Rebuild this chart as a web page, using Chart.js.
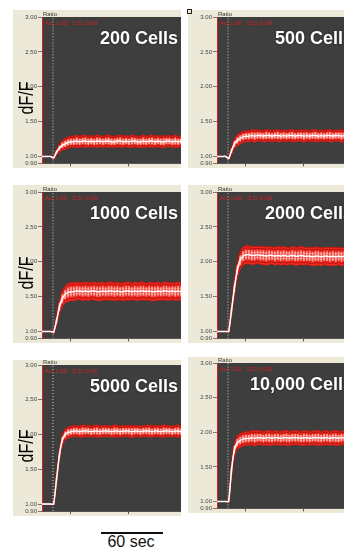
<!DOCTYPE html>
<html>
<head>
<meta charset="utf-8">
<script src="https://cdn.jsdelivr.net/npm/chart.js@4"></script>
<style>
  html, body { margin: 0; padding: 0; background: #fff; }
  body { width: 344px; height: 550px; overflow: hidden; position: relative; font-family: "Liberation Sans", Arial, sans-serif; }
  canvas { position: absolute; }
  #bar60 { position: absolute; left: 101px; top: 532px; width: 62px; height: 2px; background: #111; }
  #lbl60 { position: absolute; left: 91px; width: 80px; top: 533px; line-height: 18px; font-size: 16px; text-align: center; color: #111; }
  #marker { position: absolute; left: 187px; top: 9px; width: 3px; height: 3px; border: 1px solid #222; }
</style>
</head>
<body>
<canvas id="c1"></canvas>
<canvas id="c2"></canvas>
<canvas id="c3"></canvas>
<canvas id="c4"></canvas>
<canvas id="c5"></canvas>
<canvas id="c6"></canvas>
<div id="marker"></div>
<div id="bar60"></div>
<div id="lbl60">60 sec</div>
<script>
// time points (sec)
const times = [0,3,6,9,12,15,18,21,24,27,30,33,36,39,42,45,48,51,54,57,60,63,66,69,72,
  75,78,81,84,87,90,93,96,99,102,105,108,111,114,117,120,123,126,129,132,135,138,141,144];
const stimulusTime = 11.4;
const yTicks = [0.9, 1.0, 1.5, 2.0, 2.5, 3.0];
const xTicks = [0, 60, 120];
const titles = ['200 Cells', '500 Cells', '1000 Cells', '2000 Cells', '5000 Cells', '10,000 Cells'];

// mean dF/F ratio per group
const mean200 = [1.00,1.00,1.00,1.00,0.98,1.06,1.12,1.16,1.18,1.20,1.21,
  1.21,1.22,1.21,1.22,1.22,1.21,1.22,1.21,1.22,1.22,
  1.21,1.22,1.22,1.21,1.21,1.22,1.22,1.21,1.22,1.21,
  1.22,1.22,1.21,1.21,1.22,1.21,1.22,1.22,1.21,1.22,
  1.21,1.21,1.22,1.22,1.21,1.22,1.21,1.22];
const sd200 = [0,0,0,0,0.01,0.02,0.03,0.035,0.04,0.04,0.04,
  0.04,0.045,0.04,0.04,0.045,0.04,0.04,0.04,0.045,0.04,
  0.04,0.04,0.045,0.04,0.04,0.04,0.045,0.04,0.04,0.04,
  0.045,0.04,0.04,0.04,0.045,0.04,0.04,0.045,0.04,0.04,
  0.04,0.045,0.04,0.04,0.04,0.045,0.04,0.04];

const mean500 = [1.00,1.00,1.00,1.00,0.97,1.08,1.18,1.23,1.26,1.28,1.29,
  1.29,1.30,1.29,1.30,1.30,1.29,1.30,1.30,1.29,1.30,
  1.30,1.29,1.30,1.29,1.30,1.30,1.29,1.30,1.30,1.29,
  1.30,1.29,1.30,1.30,1.29,1.30,1.29,1.30,1.30,1.29,
  1.30,1.30,1.29,1.30,1.29,1.30,1.30,1.29];
const sd500 = [0,0,0,0,0.01,0.025,0.035,0.04,0.04,0.04,0.04,
  0.04,0.04,0.045,0.04,0.04,0.04,0.045,0.04,0.04,0.04,
  0.045,0.04,0.04,0.04,0.04,0.045,0.04,0.04,0.04,0.045,
  0.04,0.04,0.04,0.045,0.04,0.04,0.04,0.04,0.045,0.04,
  0.04,0.04,0.045,0.04,0.04,0.04,0.045,0.04];

const mean1000 = [1.00,1.00,1.00,1.00,0.99,1.15,1.35,1.47,1.53,1.56,1.57,
  1.57,1.58,1.58,1.57,1.58,1.57,1.58,1.58,1.57,1.57,
  1.58,1.57,1.58,1.58,1.57,1.58,1.57,1.57,1.58,1.58,
  1.57,1.58,1.57,1.58,1.58,1.57,1.58,1.57,1.57,1.58,
  1.57,1.58,1.58,1.57,1.58,1.57,1.58,1.57];
const sd1000 = [0,0,0,0,0.01,0.03,0.05,0.06,0.06,0.065,0.065,
  0.065,0.065,0.06,0.065,0.065,0.065,0.06,0.065,0.065,0.065,
  0.065,0.06,0.065,0.065,0.065,0.065,0.06,0.065,0.065,0.065,
  0.06,0.065,0.065,0.065,0.065,0.06,0.065,0.065,0.065,0.065,
  0.06,0.065,0.065,0.065,0.06,0.065,0.065,0.065];

const mean2000 = [1.00,1.00,1.00,1.00,1.00,1.30,1.62,1.88,2.02,2.08,2.10,
  2.10,2.09,2.09,2.10,2.09,2.09,2.08,2.09,2.09,2.08,
  2.09,2.08,2.09,2.08,2.08,2.09,2.08,2.08,2.09,2.08,
  2.08,2.08,2.07,2.08,2.08,2.07,2.08,2.08,2.07,2.08,
  2.07,2.08,2.07,2.08,2.08,2.07,2.08,2.07];
const sd2000 = [0,0,0,0,0.01,0.03,0.05,0.06,0.065,0.065,0.065,
  0.065,0.065,0.065,0.06,0.065,0.065,0.065,0.065,0.06,0.065,
  0.065,0.065,0.065,0.065,0.06,0.065,0.065,0.065,0.065,0.065,
  0.06,0.065,0.065,0.065,0.065,0.065,0.06,0.065,0.065,0.065,
  0.065,0.06,0.065,0.065,0.065,0.065,0.06,0.065];

const mean5000 = [1.00,1.00,1.00,1.00,1.00,1.35,1.70,1.92,2.00,2.03,2.04,
  2.05,2.05,2.04,2.05,2.05,2.05,2.04,2.05,2.05,2.04,
  2.05,2.05,2.05,2.04,2.05,2.05,2.04,2.05,2.05,2.05,
  2.04,2.05,2.05,2.04,2.05,2.05,2.05,2.04,2.05,2.05,
  2.04,2.05,2.05,2.05,2.04,2.05,2.05,2.04];
const sd5000 = [0,0,0,0,0.01,0.03,0.035,0.04,0.04,0.04,0.04,
  0.04,0.04,0.04,0.045,0.04,0.04,0.04,0.04,0.045,0.04,
  0.04,0.04,0.04,0.04,0.045,0.04,0.04,0.04,0.04,0.04,
  0.045,0.04,0.04,0.04,0.04,0.04,0.045,0.04,0.04,0.04,
  0.04,0.045,0.04,0.04,0.04,0.04,0.045,0.04];

const mean10000 = [1.00,1.00,1.00,1.00,1.00,1.45,1.75,1.85,1.88,1.90,1.91,
  1.91,1.92,1.91,1.92,1.92,1.91,1.92,1.92,1.91,1.92,
  1.92,1.91,1.92,1.92,1.91,1.92,1.92,1.92,1.91,1.92,
  1.92,1.91,1.92,1.92,1.92,1.91,1.92,1.92,1.91,1.92,
  1.92,1.91,1.92,1.92,1.91,1.92,1.92,1.91];
const sd10000 = [0,0,0,0,0.01,0.04,0.05,0.05,0.05,0.05,0.05,
  0.05,0.05,0.055,0.05,0.05,0.05,0.05,0.055,0.05,0.05,
  0.05,0.05,0.05,0.055,0.05,0.05,0.05,0.05,0.05,0.055,
  0.05,0.05,0.05,0.05,0.055,0.05,0.05,0.05,0.05,0.05,
  0.055,0.05,0.05,0.05,0.05,0.055,0.05,0.05];

// where each panel sits on the page
const layout = [
  { id: 'c1', left: 13,  top: 10,  h: 158, padTop: 7, axisH: 2, yLabel: true },
  { id: 'c2', left: 188, top: 10,  h: 158, padTop: 7, axisH: 2, yLabel: false },
  { id: 'c3', left: 13,  top: 185, h: 158, padTop: 7, axisH: 2, yLabel: true },
  { id: 'c4', left: 188, top: 185, h: 158, padTop: 7, axisH: 2, yLabel: false },
  { id: 'c5', left: 13,  top: 360, h: 156, padTop: 5, axisH: 5, yLabel: true },
  { id: 'c6', left: 188, top: 357, h: 156, padTop: 6, axisH: 2, yLabel: false }
];
const series = [[mean200, sd200], [mean500, sd500], [mean1000, sd1000],
  [mean2000, sd2000], [mean5000, sd5000], [mean10000, sd10000]];

const panelDeco = {
  id: 'panelDeco',
  beforeDraw(chart) {
    const { ctx, chartArea: a } = chart;
    ctx.save();
    ctx.fillStyle = '#ece9d8';
    ctx.fillRect(0, 0, chart.width, chart.height);
    ctx.fillStyle = '#3e3e3e';
    ctx.fillRect(a.left, a.top, a.right - a.left, a.bottom - a.top);
    ctx.restore();
  },
  afterDraw(chart, args, opts) {
    const { ctx, chartArea: a } = chart;
    ctx.save();
    ctx.textBaseline = 'alphabetic';
    ctx.font = '6px "Liberation Sans"';
    ctx.fillStyle = '#333';
    ctx.textAlign = 'left';
    ctx.fillText('Ratio', a.left + 1, a.top - 1);
    ctx.fillStyle = '#e02020';
    ctx.fillText('Av: 1.00', a.left + 3, a.top + 8);
    ctx.fillText('S.D.:0.00', a.left + 30, a.top + 8);

    ctx.font = 'bold 18px "Liberation Sans"';
    ctx.textAlign = 'right';
    ctx.shadowColor = 'rgba(0,0,0,0.6)';
    ctx.shadowBlur = 2;
    ctx.fillStyle = '#fff';
    ctx.fillText(opts.title, a.left + 136, a.top + 27);
    ctx.shadowBlur = 0;

    if (opts.yLabel) {
      ctx.translate(20, a.top + 81);
      ctx.rotate(-Math.PI / 2);
      ctx.scale(0.8, 1);
      ctx.font = '20px "Liberation Sans"';
      ctx.textAlign = 'center';
      ctx.fillStyle = '#000';
      ctx.fillText('dF/F', 0, 0);
    }
    ctx.restore();
  }
};

Chart.defaults.animation = false;
Chart.defaults.font.family = '"Liberation Sans", Arial, sans-serif';

layout.forEach((p, i) => {
  const canvas = document.getElementById(p.id);
  canvas.width = 168;
  canvas.height = p.h;
  canvas.style.left = p.left + 'px';
  canvas.style.top = p.top + 'px';

  const [mean, sd] = series[i];
  const band = k => times.map((t, j) => ({ x: t, y: mean[j] + k * sd[j] }));
  const meanPts = band(0);
  const errPts = times.map((t, j) => ({ x: t, y: [mean[j] - sd[j], mean[j] + sd[j]] }));
  const trace = (data, color, order) => ({ data, borderColor: color, borderWidth: 1,
    pointRadius: 0, tension: 0.2, fill: false, order });

  new Chart(canvas, {
    type: 'line',
    data: {
      datasets: [
        { data: meanPts, borderColor: '#ffffff', borderWidth: 1.5, pointRadius: 0, tension: 0.2, order: 0 },
        { type: 'bar', data: errPts, backgroundColor: 'rgba(255,255,255,0.55)', barThickness: 1, order: 1 },
        { data: band(2), borderColor: '#c0170f', borderWidth: 1, backgroundColor: '#ec2a20',
          fill: '+1', pointRadius: 0, tension: 0.2, order: 4 },
        trace(band(-2), '#c0170f', 4),
        trace(band(1.5), '#b8130c', 3),
        trace(band(-1.5), '#b8130c', 3),
        trace(band(0.6), '#ff6a5a', 2),
        trace(band(-0.6), '#ff6a5a', 2),
        { data: [{ x: stimulusTime, y: 0.9 }, { x: stimulusTime, y: 3.0 }], borderColor: '#d0d0d0',
          borderWidth: 1, borderDash: [1, 2], pointRadius: 0, order: 5 }
      ]
    },
    options: {
      responsive: false,
      devicePixelRatio: 1,
      layout: { padding: { top: p.padTop, right: 0, bottom: 0, left: 0 } },
      plugins: {
        legend: { display: false },
        tooltip: { enabled: false },
        panelDeco: { title: titles[i], yLabel: p.yLabel }
      },
      scales: {
        x: {
          type: 'linear', min: 0, max: 144, offset: false,
          afterBuildTicks: s => { s.ticks = xTicks.map(v => ({ value: v })); },
          afterFit: s => { s.height = p.axisH; },
          ticks: { display: false },
          grid: { drawOnChartArea: false, tickLength: 3, color: '#555' },
          border: { color: '#555' }
        },
        y: {
          min: 0.9, max: 3.0,
          afterBuildTicks: s => { s.ticks = yTicks.map(v => ({ value: v })); },
          afterFit: s => { s.width = 29; },
          ticks: { autoSkip: false, font: { size: 6 }, color: '#444', padding: 1,
            callback: v => Number(v).toFixed(2) },
          grid: { drawOnChartArea: false, tickLength: 4, color: '#777' },
          border: { color: '#d42020' }
        }
      }
    },
    plugins: [panelDeco]
  });
});
</script>
</body>
</html>
